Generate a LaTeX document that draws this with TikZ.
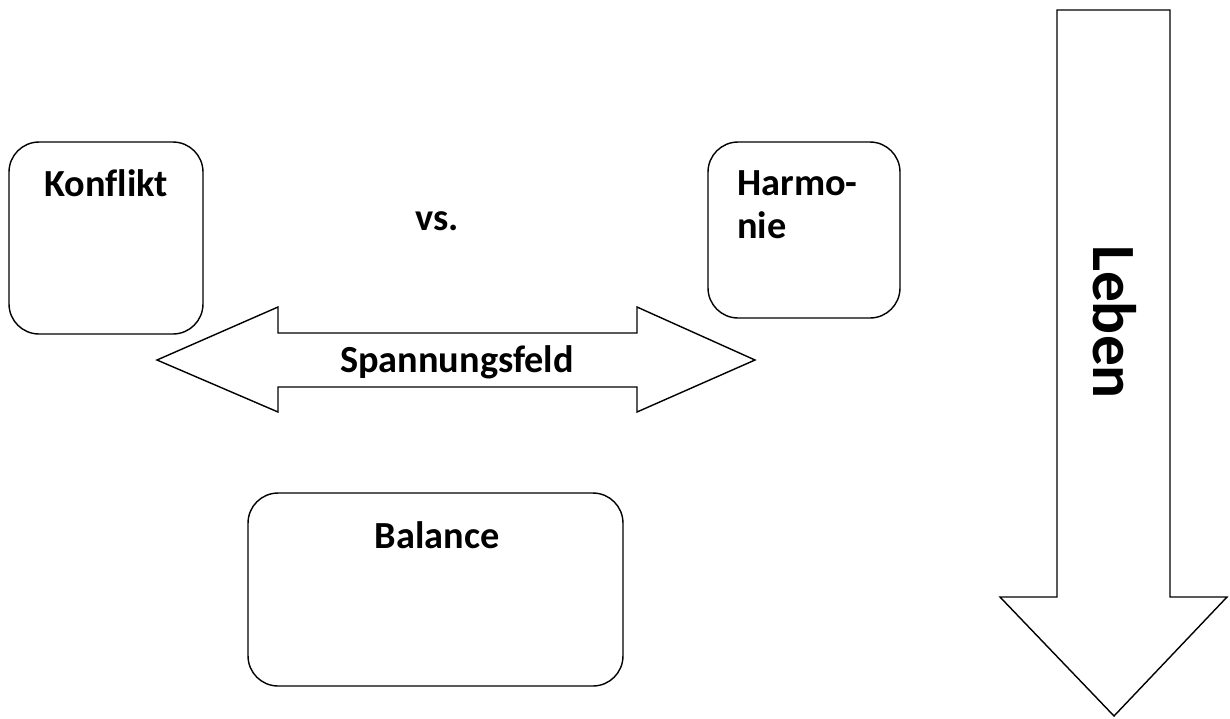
\documentclass[tikz,border=0pt]{standalone}
\usepackage{fontspec}
\setmainfont{Carlito}[Ligatures=NoCommon]
\usetikzlibrary{positioning}

\begin{document}
\begin{tikzpicture}[
    x=0.02cm, y=-0.02cm,
    box/.style={draw, rounded corners=0.6cm, line width=0.8pt, inner sep=0pt},
    bigarrow/.style={draw, line width=0.8pt, line join=miter},
    word/.style={font=\fontsize{21.8}{26}\selectfont\bfseries, inner sep=0pt, anchor=base}
    ]
    \useasboundingbox (0,0) rectangle (1230,718);

    \node[box, minimum width=3.88cm, minimum height=3.84cm] (konflikt) at (106,238) {};
    \node[box, minimum width=3.84cm, minimum height=3.52cm] (harmonie) at (804,230) {};
    \node[box, minimum width=7.5cm, minimum height=3.86cm] (balance) at (435.5,589.5) {};

    \node[word] (konflikt_txt) at (106,196) {Konflikt};
    \node[word, anchor=base west] (harmonie_txt) at (737,195) {Harmo-};
    \node[word, anchor=base west] (harmonie_txt2) at (737,238) {nie};
    \node[word] (balance_txt) at (437,548) {Balance};
    \node[word] (vs) at (437,230) {vs.};

    % Spannungsfeld
    \draw[bigarrow] (157,360) -- (278,307) -- (278,333) -- (637,333) -- (637,307)
        -- (755,360) -- (637,412) -- (637,387) -- (278,387) -- (278,412) -- cycle;
    \node[word] (spannung) at (457,372) {Spannungsfeld};

    % Leben
    \draw[bigarrow] (1057,10) -- (1170,10) -- (1170,597) -- (1227,597)
        -- (1114,716) -- (1000,597) -- (1057,597) -- cycle;
    \node[font=\fontsize{35}{40}\selectfont\bfseries, inner sep=0pt, rotate=-90] (leben) at (1115,322) {Leben};

\end{tikzpicture}
\end{document}
